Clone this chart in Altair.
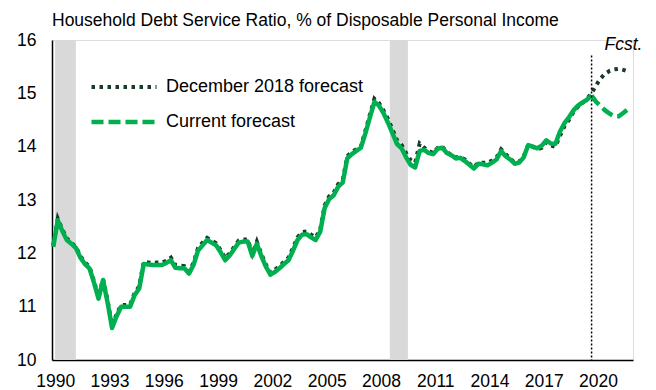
import altair as alt
import pandas as pd

FONT = "Liberation Sans"

# Quarterly data, 1990Q1 onward
start_year = 1990
hist = [
    12.12, 12.62, 12.42, 12.25,  # 1990
    12.18, 12.10, 11.92, 11.80,  # 1991
    11.72, 11.45, 11.15, 11.50,  # 1992
    11.08, 10.60, 10.82, 11.00,  # 1993
    11.00, 11.00, 11.22, 11.34,  # 1994
    11.80, 11.79, 11.78, 11.78,  # 1995
    11.78, 11.82, 11.87, 11.73,  # 1996
    11.72, 11.72, 11.62, 11.78,  # 1997
    12.05, 12.15, 12.25, 12.20,  # 1998
    12.15, 12.02, 11.87, 11.96,  # 1999
    12.08, 12.20, 12.22, 12.22,  # 2000
    11.95, 12.18, 11.95, 11.75,  # 2001
    11.60, 11.65, 11.72, 11.80,  # 2002
    11.87, 12.05, 12.25, 12.35,  # 2003
    12.36, 12.30, 12.25, 12.40,  # 2004
    12.85, 13.02, 13.09, 13.25,  # 2005
    13.33, 13.78, 13.86, 13.92,  # 2006
    13.98, 14.25, 14.55, 14.84,  # 2007
    14.77, 14.63, 14.45, 14.25,  # 2008
    14.05, 13.97, 13.80, 13.66,  # 2009
    13.61, 13.92, 13.94, 13.88,  # 2010
    13.86, 13.96, 13.98, 13.88,  # 2011
    13.84, 13.78, 13.79, 13.73,  # 2012
    13.66, 13.59, 13.68, 13.67,  # 2013
    13.65, 13.70, 13.76, 13.92,  # 2014
    13.82, 13.76, 13.68, 13.70,  # 2015
    13.80, 14.03, 14.00, 13.97,  # 2016
    14.02, 14.12, 14.06, 14.05,  # 2017
    14.28, 14.44, 14.55, 14.68,  # 2018
    14.77, 14.83, 14.88, 14.96,  # 2019
]

dec2018 = [
    12.15, 12.65, 12.45, 12.28,  # 1990
    12.20, 12.12, 11.95, 11.83,  # 1991
    11.75, 11.48, 11.18, 11.52,  # 1992
    11.12, 10.64, 10.86, 11.03,  # 1993
    11.03, 11.04, 11.26, 11.38,  # 1994
    11.84, 11.83, 11.82, 11.83,  # 1995
    11.83, 11.86, 11.92, 11.78,  # 1996
    11.77, 11.76, 11.66, 11.82,  # 1997
    12.10, 12.20, 12.29, 12.24,  # 1998
    12.19, 12.06, 11.91, 12.00,  # 1999
    12.12, 12.24, 12.26, 12.26,  # 2000
    11.99, 12.22, 11.99, 11.79,  # 2001
    11.64, 11.69, 11.76, 11.84,  # 2002
    11.92, 12.10, 12.30, 12.40,  # 2003
    12.41, 12.35, 12.30, 12.44,  # 2004
    12.90, 13.07, 13.14, 13.30,  # 2005
    13.38, 13.82, 13.90, 13.95,  # 2006
    14.00, 14.30, 14.60, 14.90,  # 2007
    14.82, 14.68, 14.52, 14.32,  # 2008
    14.12, 14.03, 13.88, 13.75,  # 2009
    13.70, 14.06, 13.98, 13.92,  # 2010
    13.88, 13.98, 14.00, 13.90,  # 2011
    13.84, 13.80, 13.80, 13.76,  # 2012
    13.68, 13.62, 13.70, 13.70,  # 2013
    13.70, 13.74, 13.80, 13.95,  # 2014
    13.86, 13.78, 13.70, 13.72,  # 2015
    13.82, 14.03, 14.00, 13.95,  # 2016
    13.98, 14.08, 14.02, 14.00,  # 2017
    14.20, 14.38, 14.50, 14.65,  # 2018
    14.75, 14.82, 14.90, 15.00,  # 2019
    15.15, 15.28, 15.37, 15.42,  # 2020
    15.45, 15.46, 15.44, 15.41,  # 2021
]

# Current forecast, starting at the last actual quarter (2019Q4)
fc_start = 2019.75
current_fc = [14.96, 14.84, 14.76, 14.68, 14.62, 14.57, 14.57, 14.63, 14.70]

recession_start = [1990.1, 2008.6]
recession_end = [1991.25, 2009.6]

tick_years = list(range(1990, 2021, 3))
y_ticks = [10, 11, 12, 13, 14, 15, 16]

series_names = ["December 2018 forecast", "Current forecast"]
series_colors = ["#1b3a28", "#00b050"]

TITLE = "Household Debt Service Ratio, % of Disposable Personal Income"

# ---- tables ----
hist_df = pd.DataFrame({"t": [start_year + i / 4 for i in range(len(hist))], "v": hist})
fc_df = pd.concat([
    pd.DataFrame({"t": [start_year + i / 4 for i in range(len(dec2018))], "v": dec2018,
                  "series": series_names[0]}),
    pd.DataFrame({"t": [fc_start + i / 4 for i in range(len(current_fc))], "v": current_fc,
                  "series": series_names[1]}),
])
rec_df = pd.DataFrame({"start": recession_start, "end": recession_end, "lo": 10, "hi": 16})
fcst_df = pd.DataFrame({"t": [fc_start], "top": [15.71], "bottom": [10], "label_y": [16]})

W, H = 581, 320
x_scale = alt.Scale(domain=[1989.93, 2022.04], nice=False, zero=False)
y_scale = alt.Scale(domain=[10, 16], nice=False, zero=False)

x_axis = alt.Axis(values=tick_years, format="d", title=None, grid=False, ticks=False, tickSize=0,
                  domainColor="black", domainWidth=1.5, labelFont=FONT, labelFontSize=17.5,
                  labelColor="black", labelPadding=12, labelOffset=2, labelFlush=False,
                  labelOverlap=False)
y_axis = alt.Axis(values=y_ticks, format="d", title=None, grid=False, ticks=False, tickSize=0,
                  domainColor="black", domainWidth=1.5, labelFont=FONT, labelFontSize=17.5,
                  labelColor="black", labelPadding=16)

rects = alt.Chart(rec_df).mark_rect(color="#d9d9d9").encode(
    x=alt.X("start:Q", scale=x_scale, axis=x_axis),
    x2="end:Q",
    y=alt.Y("hi:Q", scale=y_scale, axis=y_axis),
    y2="lo:Q",
)

legend = alt.Legend(
    title=None, orient="none", legendX=37, legendY=38, direction="vertical",
    symbolType="M-5,0H5", symbolSize=169, symbolOffset=26, symbolStrokeWidth=4,
    labelFont=FONT, labelFontSize=18, labelColor="black", labelOffset=33,
    rowPadding=17, labelLimit=400,
)

fc_lines = alt.Chart(fc_df).mark_line(strokeCap="butt").encode(
    x=alt.X("t:Q", scale=x_scale),
    y=alt.Y("v:Q", scale=y_scale),
    color=alt.Color("series:N", scale=alt.Scale(domain=series_names, range=series_colors),
                    legend=legend),
    strokeDash=alt.StrokeDash("series:N",
                              scale=alt.Scale(domain=series_names, range=[[3.5, 4.5], [12, 5]]),
                              legend=legend),
    strokeWidth=alt.StrokeWidth("series:N",
                                scale=alt.Scale(domain=series_names, range=[4, 4.5]),
                                legend=None),
    order="t:Q",
)

hist_line = alt.Chart(hist_df).mark_line(color="#00b050", strokeWidth=4.5, strokeJoin="round").encode(
    x=alt.X("t:Q", scale=x_scale),
    y=alt.Y("v:Q", scale=y_scale),
)

fc_rule = alt.Chart(fcst_df).mark_rule(color="black", strokeWidth=1.5, strokeDash=[2, 2]).encode(
    x=alt.X("t:Q", scale=x_scale),
    y=alt.Y("top:Q", scale=y_scale),
    y2="bottom:Q",
)

fc_text = alt.Chart(fcst_df).mark_text(
    text="Fcst.", font=FONT, fontSize=17.5, fontStyle="italic", align="left",
    baseline="middle", dx=13, dy=5, color="black",
).encode(
    x=alt.X("t:Q", scale=x_scale),
    y=alt.Y("label_y:Q", scale=y_scale),
)

chart = alt.layer(rects, fc_lines, hist_line, fc_rule, fc_text).properties(
    width=W, height=H,
    title=alt.TitleParams(TITLE, anchor="start", frame="group", font=FONT, fontSize=17.5,
                          fontWeight="normal", color="black", offset=2),
    autosize=alt.AutoSizeParams(type="none"),
    padding={"left": 44, "top": 32, "right": 15, "bottom": 30},
).configure_view(stroke=None).configure(background="white")

chart.save("out.html", embed_options={"renderer": "svg", "actions": False})
